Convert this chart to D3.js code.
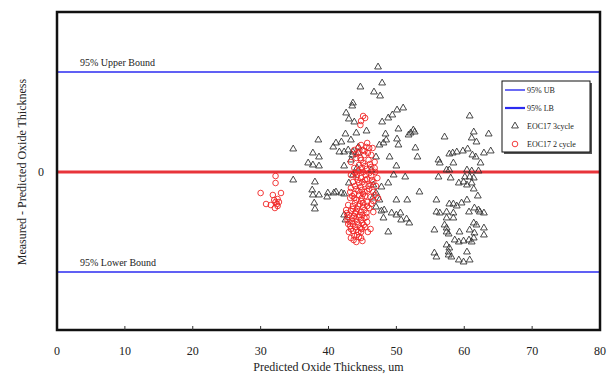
<!DOCTYPE html>
<html>
<head>
<meta charset="utf-8">
<script src="https://cdn.jsdelivr.net/npm/d3@7"></script>
<style>
  body { margin: 0; background: #fff; }
  svg text { font-family: "Liberation Serif", "DejaVu Serif", serif; fill: #222; }
</style>
</head>
<body>
<svg id="chart"></svg>
<script>
// x = predicted oxide thickness (um), y = measured - predicted (in units of the 95% bound)
const xTicks = [0, 10, 20, 30, 40, 50, 60, 70, 80];
const yTicks = [0];
const upperBound = 1;
const lowerBound = -1;

// EOC17 3 cycle (triangles)
const eoc3cycle = [
    [47.3, 1.05], [47.9, 0.89], [44.7, 0.85], [46.7, 0.80], [47.6, 0.76], [43.6, 0.69], [43.5, 0.66],
    [42.6, 0.59], [43.0, 0.53], [43.8, 0.50], [47.9, 0.50], [48.8, 0.54], [49.4, 0.57], [50.1, 0.62],
    [51.0, 0.64], [50.3, 0.43], [52.1, 0.39], [51.8, 0.37], [48.4, 0.38], [48.5, 0.32], [50.1, 0.33],
    [50.3, 0.27], [52.8, 0.24], [45.6, 0.41], [44.1, 0.39], [42.5, 0.38], [43.3, 0.32], [41.9, 0.30],
    [41.1, 0.29], [40.7, 0.25], [38.5, 0.32], [34.8, 0.23], [37.7, 0.19], [38.6, 0.15], [47.5, 0.27],
    [48.1, 0.29], [49.0, 0.15], [37.0, 0.09], [37.7, 0.07], [38.6, 0.06], [41.6, 0.20], [42.3, 0.20],
    [42.3, 0.06], [43.5, 0.17], [44.4, 0.19], [47.0, 0.15], [50.0, 0.06], [53.1, 0.15], [34.8, -0.08],
    [38.0, -0.10], [37.6, -0.18], [37.7, -0.23], [38.6, -0.23], [39.8, -0.25], [39.9, -0.21], [40.8, -0.21],
    [41.1, -0.20], [41.9, -0.21], [42.3, -0.22], [37.9, -0.31], [38.0, -0.37], [43.0, -0.11], [43.6, -0.03],
    [47.0, -0.21], [47.5, -0.28], [47.8, -0.15], [48.8, -0.11], [49.6, -0.03], [51.3, -0.05], [53.4, -0.20],
    [50.0, -0.28], [51.6, -0.28], [47.8, -0.39], [48.2, -0.38], [49.3, -0.41], [50.0, -0.43], [50.6, -0.41],
    [50.7, -0.48], [51.5, -0.47], [51.9, -0.51], [48.1, -0.46], [48.8, -0.60], [42.3, -0.43], [42.5, -0.48],
    [47.0, -0.35], [52.5, 0.42], [52.7, 0.40], [43.3, 0.12], [44.2, 0.04], [46.3, 0.02], [46.6, -0.13],
    [46.5, -0.26], [42.9, 0.22], [43.6, 0.20], [44.4, 0.25],
    [60.8, 0.56], [57.1, 0.35], [61.4, 0.40], [61.1, 0.34], [61.8, 0.30], [63.6, 0.38], [62.9, 0.19],
    [63.9, 0.21], [57.8, 0.18], [58.3, 0.19], [58.9, 0.20], [59.8, 0.21], [60.5, 0.23], [61.2, 0.17],
    [61.7, 0.15], [56.2, 0.12], [56.4, 0.09], [58.4, 0.09], [62.4, 0.09], [57.4, 0.02], [57.8, 0.02],
    [60.4, 0.02], [61.1, 0.01], [62.1, 0.01], [56.2, -0.05], [58.0, -0.06], [60.1, -0.05], [60.8, -0.05],
    [61.4, -0.06], [59.2, -0.11], [59.9, -0.10], [60.4, -0.13], [61.4, -0.17], [61.1, -0.11], [55.9, -0.28],
    [57.8, -0.32], [58.4, -0.32], [58.9, -0.34], [59.6, -0.31], [60.4, -0.28], [55.9, -0.40], [56.4, -0.41],
    [57.4, -0.40], [58.4, -0.41], [60.7, -0.40], [61.5, -0.36], [62.1, -0.38], [62.3, -0.40], [62.9, -0.41],
    [57.4, -0.46], [58.4, -0.46], [57.1, -0.53], [57.4, -0.56], [61.4, -0.51], [61.8, -0.53], [62.9, -0.56],
    [55.6, -0.58], [57.4, -0.60], [57.7, -0.62], [59.3, -0.60], [60.8, -0.58], [61.5, -0.61], [62.9, -0.63],
    [58.6, -0.68], [59.2, -0.70], [59.9, -0.69], [60.7, -0.68], [61.1, -0.70], [61.4, -0.66], [57.4, -0.73],
    [57.8, -0.76], [57.7, -0.80], [55.6, -0.81], [55.9, -0.85], [57.7, -0.83], [58.1, -0.85], [60.4, -0.80],
    [59.2, -0.88], [59.9, -0.90], [60.8, -0.88], [62.0, -0.24]
];

// EOC17 2 cycle (circles)
const eoc2cycle = [
    [30.0, -0.21], [30.8, -0.32], [32.2, -0.04], [32.2, -0.11], [31.8, -0.23], [33.0, -0.21], [32.0, -0.28],
    [32.2, -0.30], [32.5, -0.27], [32.7, -0.30], [32.4, -0.32], [32.5, -0.34], [32.1, -0.36], [31.5, -0.33],
    [45.1, 0.56], [44.8, 0.51], [44.7, 0.47], [45.4, 0.54],
    [44.8, 0.27], [45.6, 0.25], [46.0, 0.24], [43.8, 0.22], [45.3, 0.17], [46.3, 0.17], [44.4, 0.20],
    [45.7, 0.29], [46.5, 0.24], [44.1, 0.14], [44.8, 0.12], [45.9, 0.12], [46.8, 0.10], [43.3, 0.10],
    [44.5, 0.07], [45.4, 0.06], [46.3, 0.05], [43.8, 0.04],
    [44.4, 0.01], [45.1, 0.00], [46.0, -0.01], [46.9, 0.00], [43.3, -0.03], [44.1, -0.05], [44.8, -0.06],
    [45.7, -0.07], [46.4, -0.08], [43.6, -0.10], [44.5, -0.11], [45.3, -0.12], [46.2, -0.13], [47.0, -0.14],
    [43.3, -0.16], [44.1, -0.17], [44.9, -0.18], [45.7, -0.19], [46.6, -0.20], [43.8, -0.22], [44.5, -0.23],
    [45.4, -0.24], [46.2, -0.25], [47.3, -0.26], [43.2, -0.26], [44.1, -0.28], [44.8, -0.29], [45.7, -0.30],
    [42.9, -0.33], [43.6, -0.34], [44.4, -0.34], [45.1, -0.35], [46.0, -0.36], [42.6, -0.38], [43.3, -0.39],
    [44.1, -0.40], [44.8, -0.40], [45.6, -0.41], [46.6, -0.40], [43.0, -0.43], [43.8, -0.44], [44.5, -0.45],
    [45.3, -0.46], [42.8, -0.48], [43.5, -0.49], [44.2, -0.50], [45.0, -0.51], [45.7, -0.50], [43.2, -0.54],
    [43.9, -0.55], [44.7, -0.56], [45.4, -0.55], [43.6, -0.59], [44.4, -0.60], [46.2, -0.57], [43.0, -0.60],
    [43.8, -0.64], [44.5, -0.65], [44.1, -0.70], [43.3, -0.66], [45.0, -0.69],
    [44.7, 0.14], [45.1, 0.09], [44.2, -0.03], [45.4, -0.08], [44.7, -0.15], [45.3, -0.20], [43.8, -0.26],
    [45.1, -0.31], [44.2, -0.37], [43.5, -0.46], [44.4, -0.53], [45.0, -0.43], [45.9, -0.14], [46.3, -0.04],
    [45.6, 0.03], [43.2, -0.20], [43.9, -0.41], [44.8, -0.60], [42.9, -0.52], [45.3, 0.21], [44.4, 0.24],
    [46.8, 0.04], [47.2, -0.06], [46.6, -0.29], [45.7, -0.34],
    [44.0, 0.18], [45.0, 0.22], [45.8, 0.19], [46.1, 0.08], [44.9, 0.04], [43.9, -0.01], [45.5, -0.03],
    [44.3, -0.08], [46.6, -0.10], [45.0, -0.10], [43.9, -0.14], [46.0, -0.17], [44.4, -0.19], [45.1, -0.22],
    [46.8, -0.23], [43.5, -0.24], [44.9, -0.26], [46.3, -0.32], [43.9, -0.31], [44.6, -0.32], [42.7, -0.41],
    [43.6, -0.37], [45.3, -0.38], [44.6, -0.43], [42.8, -0.45], [45.6, -0.45], [43.1, -0.50], [44.0, -0.47],
    [44.8, -0.48], [45.2, -0.53], [43.6, -0.52], [44.1, -0.58], [44.9, -0.57], [43.3, -0.57], [44.2, -0.63],
    [43.7, -0.68], [44.8, -0.66], [45.8, -0.60]
];

const width = 610;
const height = 380;
const margin = { top: 12, right: 10, bottom: 50, left: 57 };

const svg = d3.select('#chart')
    .attr('width', width)
    .attr('height', height);

const x = d3.scaleLinear().domain([0, 80]).range([margin.left, width - margin.right]);
const y = d3.scaleLinear().domain([-1.58, 1.6]).range([height - margin.bottom, margin.top]);

// bound lines and zero line
[upperBound, lowerBound].forEach(b => {
    svg.append('line')
        .attr('x1', x(0)).attr('x2', x(80))
        .attr('y1', y(b)).attr('y2', y(b))
        .attr('stroke', '#2b2bf0')
        .attr('stroke-width', 1.4);
});

svg.append('line')
    .attr('x1', x(0)).attr('x2', x(80))
    .attr('y1', y(0)).attr('y2', y(0))
    .attr('stroke', '#e8343a')
    .attr('stroke-width', 3);

svg.append('text')
    .attr('x', 80).attr('y', y(upperBound) - 6)
    .style('font-size', '10px')
    .text('95% Upper Bound');

svg.append('text')
    .attr('x', 80).attr('y', y(lowerBound) - 6)
    .style('font-size', '10px')
    .text('95% Lower Bound');

// points
const tri = d3.symbol().type(d3.symbolTriangle).size(20);

svg.append('g')
    .selectAll('path')
    .data(eoc3cycle)
    .enter()
    .append('path')
    .attr('transform', d => `translate(${x(d[0])},${y(d[1])})`)
    .attr('d', tri)
    .attr('fill', 'none')
    .attr('stroke', '#333')
    .attr('stroke-width', 0.9);

svg.append('g')
    .selectAll('circle')
    .data(eoc2cycle)
    .enter()
    .append('circle')
    .attr('cx', d => x(d[0]))
    .attr('cy', d => y(d[1]))
    .attr('r', 2.8)
    .attr('fill', 'none')
    .attr('stroke', '#f02828')
    .attr('stroke-width', 0.9);

// frame
svg.append('rect')
    .attr('x', x(0)).attr('y', y(1.6))
    .attr('width', x(80) - x(0))
    .attr('height', y(-1.58) - y(1.6))
    .attr('fill', 'none')
    .attr('stroke', '#111')
    .attr('stroke-width', 2.5);

// x axis: ticks inside, labels below
const xAxis = svg.append('g');
xAxis.selectAll('line')
    .data(xTicks.slice(1, -1))
    .enter()
    .append('line')
    .attr('x1', d => x(d)).attr('x2', d => x(d))
    .attr('y1', y(-1.58)).attr('y2', y(-1.58) - 4)
    .attr('stroke', '#333')
    .attr('stroke-width', 1);

xAxis.selectAll('text')
    .data(xTicks)
    .enter()
    .append('text')
    .attr('x', d => x(d))
    .attr('y', 355)
    .attr('text-anchor', 'middle')
    .style('font-size', '12px')
    .text(d => d);

svg.selectAll('.ytick')
    .data(yTicks)
    .enter()
    .append('text')
    .attr('class', 'ytick')
    .attr('x', 44)
    .attr('y', d => y(d) + 4)
    .attr('text-anchor', 'end')
    .style('font-size', '12px')
    .text(d => d);

svg.append('text')
    .attr('x', (x(0) + x(80)) / 2)
    .attr('y', 371)
    .attr('text-anchor', 'middle')
    .style('font-size', '12px')
    .text('Predicted Oxide Thickness, um');

svg.append('text')
    .attr('transform', `translate(26,${y(0)}) rotate(-90)`)
    .attr('text-anchor', 'middle')
    .style('font-size', '12px')
    .text('Measured - Predicted Oxide Thickness');

// legend
const legend = svg.append('g').attr('transform', 'translate(502,81)');
legend.append('rect')
    .attr('x', 2).attr('y', 2)
    .attr('width', 88).attr('height', 71)
    .attr('fill', '#555');
legend.append('rect')
    .attr('width', 88).attr('height', 71)
    .attr('fill', '#fff')
    .attr('stroke', '#111')
    .attr('stroke-width', 1);

const legendItems = [
    { label: '95% UB', kind: 'line', w: 1.4 },
    { label: '95% LB', kind: 'line', w: 2.2 },
    { label: 'EOC17 3cycle', kind: 'tri' },
    { label: 'EOC17 2 cycle', kind: 'circle' }
];

legendItems.forEach((item, i) => {
    const ly = 9 + i * 18;
    if (item.kind === 'line') {
        legend.append('line')
            .attr('x1', 3).attr('x2', 23)
            .attr('y1', ly).attr('y2', ly)
            .attr('stroke', '#2b2bf0')
            .attr('stroke-width', item.w);
    } else if (item.kind === 'tri') {
        legend.append('path')
            .attr('transform', `translate(13,${ly})`)
            .attr('d', tri)
            .attr('fill', 'none')
            .attr('stroke', '#333')
            .attr('stroke-width', 0.9);
    } else {
        legend.append('circle')
            .attr('cx', 13).attr('cy', ly)
            .attr('r', 2.8)
            .attr('fill', 'none')
            .attr('stroke', '#f02828')
            .attr('stroke-width', 0.9);
    }
    legend.append('text')
        .attr('x', 25).attr('y', ly + 3)
        .style('font-size', '8px')
        .text(item.label);
});
</script>
</body>
</html>
